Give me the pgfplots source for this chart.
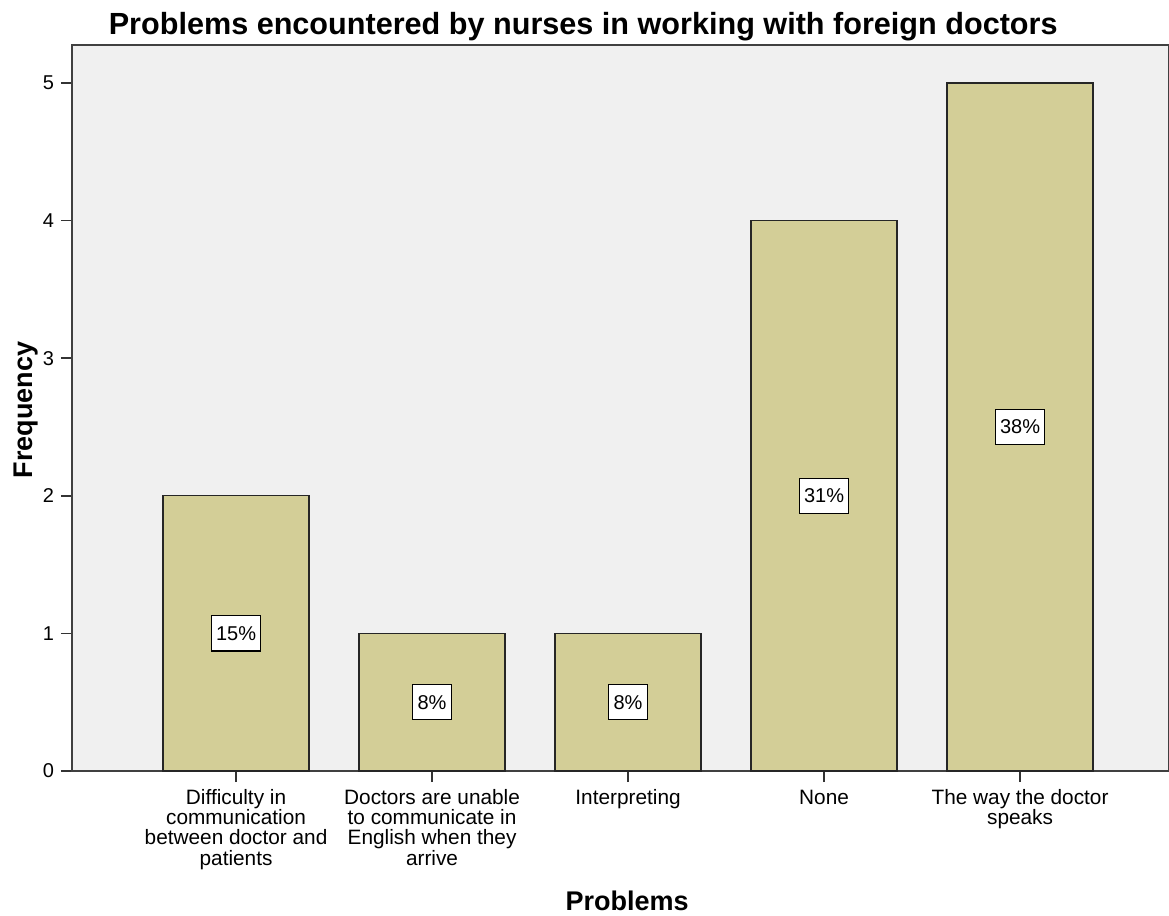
\documentclass[border=0pt]{standalone}
\usepackage{pgfplots}
\pgfplotsset{compat=1.18}
\usepackage{fontspec}
\setmainfont{Liberation Sans}
\definecolor{barfill}{HTML}{D3CE97}
\definecolor{plotbg}{HTML}{F0F0F0}
\begin{document}
\begin{tikzpicture}
  \begin{axis}[
    scale only axis,
    width=548.5pt, height=363pt,
    xmin=-0.837, xmax=4.76,
    ymin=0, ymax=5.276,
    clip mode=individual,
    axis background/.style={fill=plotbg},
    axis line style={draw=black!75, line width=0.8pt},
    xtick={0,1,2,3,4},
    xticklabels={{Difficulty in\\communication\\between doctor and\\patients},
      {Doctors are unable\\to communicate in\\English when they\\arrive},
      {Interpreting}, {\vphantom{f}None}, {The way the doctor\\speaks}},
    xticklabel style={align=center, font=\fontsize{10.4}{10.2}\selectfont},
    ytick={0,1,2,3,4,5},
    yticklabel style={font=\fontsize{10}{12}\selectfont},
    /pgf/number format/assume math mode=true,
    tick align=outside,
    xtick pos=bottom, ytick pos=left,
    major tick length=5.5pt,
    tick style={black!80, line width=0.8pt},
    ylabel={\bfseries Frequency},
    ylabel style={font=\fontsize{13.5}{15}\selectfont, at={(rel axis cs:0,0.497)}, yshift=23pt, anchor=center},
    xlabel={\bfseries Problems},
    xlabel style={font=\fontsize{13.5}{15}\selectfont, at={(rel axis cs:0.506,0)}, yshift=-65pt, anchor=center},
  ]
    \addplot[ybar, bar width=0.745, fill=barfill, draw=black!85, line width=0.7pt]
      coordinates {(0,2) (1,1) (2,1) (3,4) (4,5)};
    \addplot[draw=none, nodes near coords, point meta=explicit symbolic,
      every node near coord/.append style={anchor=center, fill=white, draw=black,
        line width=0.6pt, inner xsep=2.4pt, minimum height=17.5pt,
        font=\fontsize{10}{12}\selectfont}]
      coordinates {(0,1)[15\%] (1,0.5)[8\%] (2,0.5)[8\%] (3,2)[31\%] (4,2.5)[38\%]};
    \node[font=\bfseries\fontsize{15.3}{17}\selectfont, anchor=base]
      at ([yshift=5pt]rel axis cs:0.466,1) {Problems encountered by nurses in working with foreign doctors};
    \coordinate (bl) at (rel axis cs:0,0);
    \coordinate (tr) at (rel axis cs:1,1);
  \end{axis}
  \pgfresetboundingbox
  \path[use as bounding box] ([shift={(-36pt,-72pt)}]bl) rectangle ([shift={(0pt,22.5pt)}]tr);
\end{tikzpicture}
\end{document}
